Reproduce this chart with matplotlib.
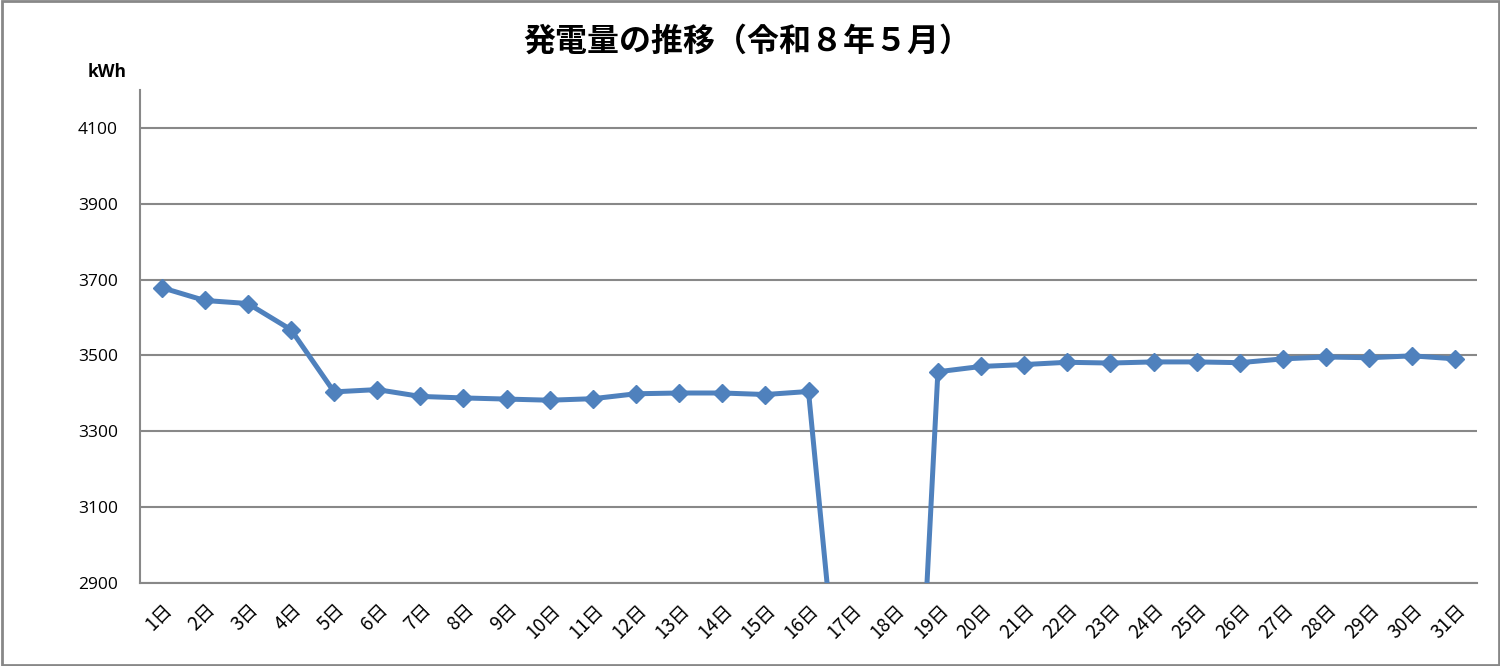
import matplotlib
matplotlib.use("Agg")
import matplotlib.pyplot as plt
from matplotlib.patches import Rectangle

days = [f"{d}日" for d in range(1, 32)]
values = [3679, 3645, 3637, 3568, 3404, 3410, 3392, 3388, 3385, 3382,
          3386, 3399, 3401, 3401, 3397, 3405, 2230, 1250, 3457, 3471,
          3476, 3482, 3480, 3483, 3483, 3481, 3491, 3496, 3494, 3499, 3491]
yticks = [2900, 3100, 3300, 3500, 3700, 3900, 4100]
title = "発電量の推移（令和８年５月）"
unit = "kWh"

plt.rcParams['font.family'] = ['Noto Sans CJK JP', 'DejaVu Sans']

fig = plt.figure(figsize=(15, 6.66), dpi=100)
ax = fig.add_axes([140/1500, 1-583/666, (1477-140)/1500, (583-90)/666])

x = list(range(1, 32))
ax.plot(x, values, color='#4F81BD', lw=3.6, marker='D', markersize=9,
        markeredgecolor='#4F81BD', solid_joinstyle='round', zorder=3)

ax.set_xlim(0.5, 31.5)
ax.set_ylim(2900, 4200)
ax.set_yticks(yticks)
ax.set_yticklabels([str(v) for v in yticks], fontsize=12.5, family=['Open Sans'])
ax.set_xticks(x)
ax.set_xticklabels(days, fontsize=13.5, rotation=45, ha='right',
                   rotation_mode='anchor')
ax.tick_params(axis='both', length=0)
ax.tick_params(axis='y', pad=16)
ax.tick_params(axis='x', pad=12)
ax.grid(axis='y', color='#888888', lw=1.5)
ax.set_axisbelow(True)
for s in ['top', 'right']:
    ax.spines[s].set_visible(False)
ax.spines['left'].set_color('#888888')
ax.spines['left'].set_linewidth(1.5)
ax.spines['bottom'].set_color('#888888')
ax.spines['bottom'].set_linewidth(1.5)

fig.text(747/1500, 1-42/666, title, ha='center', va='center', fontsize=23,
         fontweight='bold')
fig.text(127/1500, 1-72/666, unit, ha='right', va='center', fontsize=12.5,
         fontweight='bold', family=['Open Sans'])

fig.patches.append(Rectangle((0.001, 0.002), 0.998, 0.996, transform=fig.transFigure,
                             fill=False, edgecolor='#888888', lw=2))

fig.savefig("out.png", dpi=100, facecolor='white')
